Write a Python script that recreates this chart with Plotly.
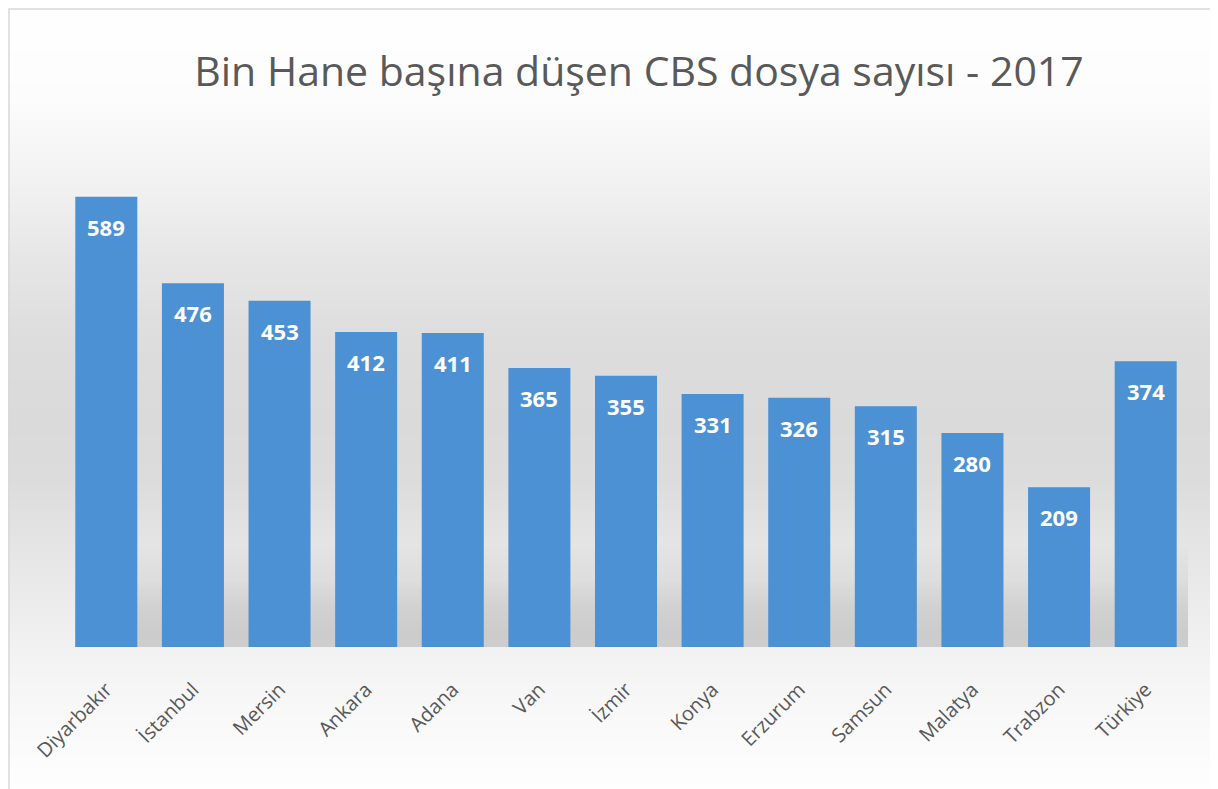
import plotly.graph_objects as go

# values
cities = ["Diyarbakır", "İstanbul", "Mersin", "Ankara", "Adana", "Van", "İzmir",
          "Konya", "Erzurum", "Samsun", "Malatya", "Trabzon", "Türkiye"]
files_per_1000 = [589, 476, 453, 412, 411, 365, 355, 331, 326, 315, 280, 209, 374]

# page has an 8px body margin, so the figure is a bit smaller than the window
OFF = 8
W, H = 1210, 781
ML, MR, MT, MB = 55, 29, 104, 142
PW, PH = W - ML - MR, H - MT - MB


def px_x(x):
    # page pixel -> paper coordinate
    return (x - OFF - ML) / PW


def px_y(y):
    return (H - MB - (y - OFF)) / PH


def interp(stops, y):
    for (y0, g0), (y1, g1) in zip(stops, stops[1:]):
        if y0 <= y <= y1:
            return g0 + (g1 - g0) * (y - y0) / (y1 - y0)
    return stops[-1][1]


# soft grey background like the excel chart area
bg_stops = [(0, 255), (100, 252), (180, 242), (260, 230), (340, 221), (420, 218),
            (480, 220), (540, 228), (620, 238), (660, 243), (720, 249), (789, 254)]
shapes = []
step = 4
for y in range(OFF, OFF + H, step):
    g = int(round(interp(bg_stops, y + step / 2)))
    shapes.append(dict(type="rect", xref="paper", yref="paper", layer="below",
                       x0=px_x(OFF), x1=px_x(OFF + W), y0=px_y(y + step), y1=px_y(y),
                       fillcolor=f"rgb({g},{g},{g})", line=dict(width=0)))

# shadow band behind the bars
sh_stops = [(545, 0.0), (580, 0.05), (610, 0.12), (635, 0.15), (647, 0.15)]
for y in range(545, 647, 3):
    a = interp(sh_stops, y + 1.5)
    shapes.append(dict(type="rect", xref="paper", yref="paper", layer="below",
                       x0=px_x(75), x1=px_x(1188), y0=px_y(min(y + 3, 647)), y1=px_y(y),
                       fillcolor=f"rgba(0,0,0,{a:.3f})", line=dict(width=0)))

# outer border
shapes.append(dict(type="rect", xref="paper", yref="paper", layer="below",
                   x0=px_x(9), x1=px_x(1212), y0=px_y(H + 20), y1=px_y(9),
                   line=dict(color="#d9d9d9", width=1.5), fillcolor="rgba(0,0,0,0)"))

fig = go.Figure(go.Bar(
    x=cities, y=files_per_1000,
    marker=dict(color="#4c91d3", line=dict(width=0)),
    hoverinfo="x+y",
))

for c, v in zip(cities, files_per_1000):
    fig.add_annotation(x=c, y=v, text=f"<b>{v}</b>", showarrow=False,
                       yanchor="middle", yshift=-30,
                       font=dict(family="Open Sans", size=22, color="white"))

fig.update_layout(
    width=W, height=H,
    margin=dict(l=ML, r=MR, t=MT, b=MB),
    paper_bgcolor="white",
    plot_bgcolor="rgba(0,0,0,0)",
    bargap=0.284,
    shapes=shapes,
    showlegend=False,
    title=dict(text="Bin Hane başına düşen CBS dosya sayısı - 2017",
               xref="container", x=631 / W, xanchor="center",
               yref="container", y=1 - 64 / H, yanchor="middle",
               font=dict(family="Open Sans", size=41, color="#595959")),
    xaxis=dict(tickangle=-45, showgrid=False, showline=False,
               ticks="outside", ticklen=22, tickcolor="rgba(0,0,0,0)",
               tickfont=dict(family="Open Sans", size=20, color="#595959")),
    yaxis=dict(range=[0, 700], visible=False, showgrid=False),
)

fig.write_html("out.html")
